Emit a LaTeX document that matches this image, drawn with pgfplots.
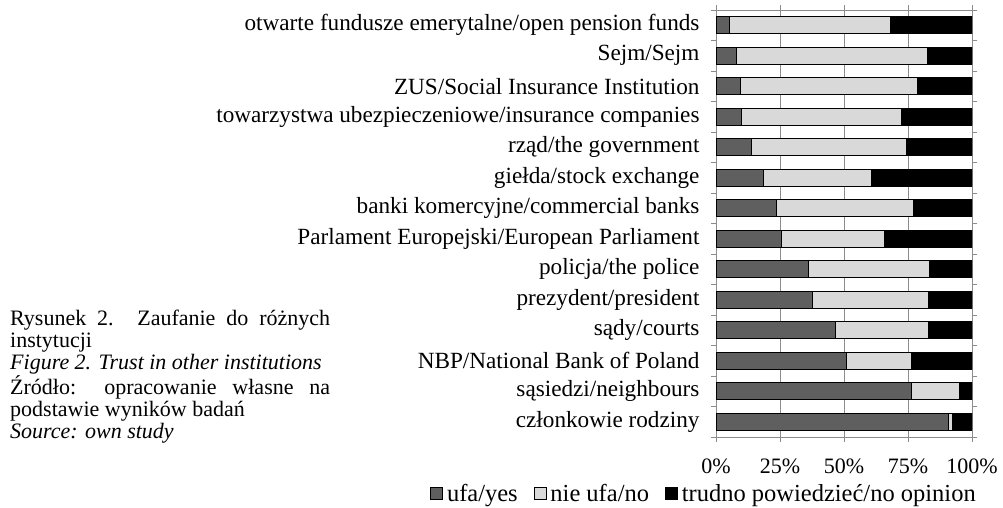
\documentclass[border=0pt]{standalone}
\usepackage{fontspec}
\setmainfont{Liberation Serif}
\usepackage{pgfplots}
\pgfplotsset{compat=1.18}
\definecolor{cdark}{HTML}{5F5F5F}
\definecolor{clight}{HTML}{D9D9D9}
\definecolor{cgrid}{HTML}{8C8C8C}
\pgfplotsset{sqleg/.style={legend image code/.code={\draw[##1, draw=black, line width=0.6pt] (0pt,-5pt) rectangle (12pt,7pt); \path (15pt,0pt);}}}
\begin{document}
\begin{tikzpicture}
\path[use as bounding box] (0pt,0pt) rectangle (1003pt,508pt);
\begin{axis}[
  at={(716pt,71pt)}, anchor=south west,
  scale only axis, width=256pt, height=427pt,
  xbar stacked, bar width=17pt,
  xmin=0, xmax=100, ymin=-0.5, ymax=13.5,
  xtick={0,25,50,75,100},
  xticklabels={0\%,25\%,50\%,75\%,100\%},
  ytick={0,...,13},
  yticklabels={członkowie rodziny, sąsiedzi/neighbours, NBP/National Bank of Poland, sądy/courts, prezydent/president, policja/the police, Parlament Europejski/European Parliament, banki komercyjne/commercial banks, giełda/stock exchange, rząd/the government, towarzystwa ubezpieczeniowe/insurance companies, ZUS/Social Insurance Institution, Sejm/Sejm, otwarte fundusze emerytalne/open pension funds},
  minor ytick={-0.5,0.5,...,13.5},
  ytick style={draw=none},
  minor y tick style={draw=cgrid, line width=0.8pt},
  x tick style={draw=cgrid, line width=0.8pt},
  tick align=outside, major tick length=5pt, minor tick length=5pt,
  xmajorgrids, major x grid style={cgrid, line width=0.8pt},
  axis line style={cgrid, line width=0.8pt},
  yticklabel style={font=\fontsize{23.2}{26}\selectfont, xshift=-8pt},
  xticklabel style={font=\fontsize{22}{26}\selectfont, yshift=-13pt},
  legend columns=3,
  legend style={at={(1.031,-0.1335)}, anchor=east, draw=none, fill=none,
    font=\fontsize{24.5}{28}\selectfont,
    nodes={inner sep=1pt},
    /tikz/every even column/.append style={column sep=15pt}},
]
\addplot[sqleg, fill=cdark, draw=black, line width=0.8pt] coordinates {
(90.7,0) (76.4,1) (50.8,2) (46.5,3) (37.8,4) (36.0,5) (25.5,6) (23.4,7) (18.4,8) (13.9,9) (9.8,10) (9.4,11) (8.0,12) (5.4,13)};
\addplot[sqleg, fill=clight, draw=black, line width=0.8pt] coordinates {
(1.7,0) (18.6,1) (25.4,2) (36.6,3) (45.1,4) (47.3,5) (40.1,6) (53.8,7) (42.4,8) (60.6,9) (62.6,10) (69.3,11) (74.7,12) (62.8,13)};
\addplot[sqleg, fill=black, draw=black, line width=0.8pt] coordinates {
(7.6,0) (5.0,1) (23.8,2) (16.9,3) (17.1,4) (16.7,5) (34.4,6) (22.8,7) (39.2,8) (25.5,9) (27.6,10) (21.3,11) (17.3,12) (31.8,13)};
\legend{ufa/yes, nie ufa/no, trudno powiedzieć/no opinion}
\end{axis}
\node[anchor=north west, inner sep=0pt, text width=320pt, align=justify,
  font=\fontsize{22}{22}\selectfont] at (10pt,198pt) {%
Rysunek 2. Zaufanie do różnych\linebreak instytucji\par
\textit{Figure 2. Trust in other institutions}\par
Źródło: opracowanie własne na\linebreak podstawie wyników badań\par
\textit{Source: own study}\par};
\end{tikzpicture}
\end{document}
